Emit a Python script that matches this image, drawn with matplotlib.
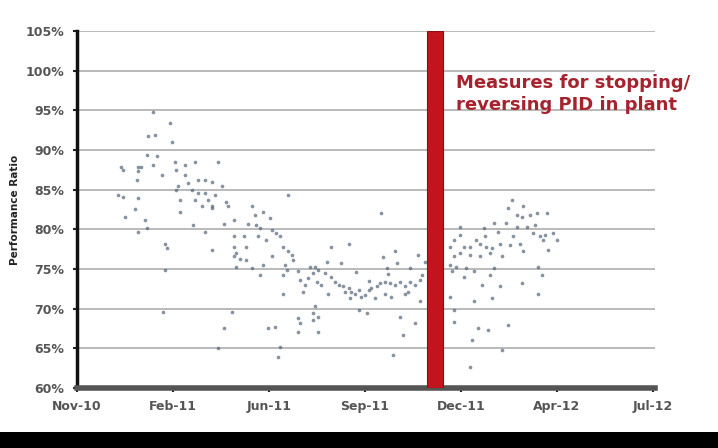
import matplotlib.pyplot as plt
from matplotlib.patches import Rectangle

# days since 1 Nov 2010, performance ratio in %
days = [
    84, 103, 79, 86, 105, 78, 89, 84, 71, 49, 51, 67, 66, 67, 94, 108, 110, 119, 130, 119,
    112, 110, 123, 127, 134, 141, 134, 141, 145, 138, 149, 130, 114, 114, 45, 51, 67, 64, 53, 75,
    77, 67, 128, 141, 97, 99, 149, 97, 95,
    156, 149, 152, 149, 160, 165, 167, 163, 174, 193, 197, 206, 213, 233, 189, 198, 202, 215, 220, 174,
    184, 200, 209, 224, 174, 187, 176, 173, 180, 187, 215, 228, 233, 237, 239, 206, 176, 193, 230, 232,
    244, 246, 255, 252, 261, 257, 202, 228, 228, 250, 265, 171, 244, 246, 261, 261, 244, 162, 211, 219,
    156, 224, 222,
    336, 300, 281, 338, 351, 353, 292, 342, 263, 266, 274, 281, 285, 289, 294, 300, 303, 307, 311, 314,
    318, 322, 325, 331, 335, 340, 346, 351, 357, 362, 368, 373, 379, 381, 296, 301, 277, 270, 311, 320,
    263, 266, 266, 357, 373, 360, 349, 379, 362, 347, 329, 340, 276, 308, 322, 343, 368, 366, 384, 377,
    480, 476, 493, 486, 491, 500, 508, 519, 460, 474, 486, 497, 506, 449, 423, 423, 465, 482, 504, 511,
    517, 526, 530, 515, 520, 451, 441, 416, 412, 427, 434, 445, 452, 458, 467, 478, 489, 493, 456, 445,
    434, 423, 416, 469, 412, 419, 430, 414, 427, 438, 460, 456, 509, 513, 447, 467, 491, 412, 438, 458,
    509, 416, 416, 443, 454, 476, 436, 469, 434,
]
perf_ratio = [
    94.8, 93.4, 91.7, 91.9, 91.0, 89.4, 89.2, 88.1, 87.9, 87.9, 87.5, 87.9, 86.2, 87.3, 86.9, 88.5, 87.5, 88.1, 88.5, 86.9,
    85.4, 85.0, 85.8, 85.0, 86.2, 86.2, 84.6, 84.6, 83.7, 82.9, 82.9, 83.7, 83.7, 82.2, 84.3, 84.1, 83.9, 82.6, 81.6, 81.2,
    80.1, 79.7, 80.6, 79.7, 78.2, 77.6, 77.4, 74.9, 69.6,
    88.5, 86.0, 84.3, 82.7, 85.4, 83.5, 82.9, 80.7, 81.2, 82.9, 81.8, 82.2, 81.4, 84.3, 80.7, 80.5, 80.1, 79.9, 79.5, 79.1,
    79.1, 79.1, 78.7, 79.1, 77.8, 77.8, 77.0, 76.6, 76.3, 76.1, 76.6, 77.8, 77.2, 76.8, 76.1, 75.5, 75.3, 75.1, 75.5, 74.9,
    74.7, 73.6, 73.8, 73.0, 74.5, 75.3, 74.2, 74.2, 71.9, 72.1, 73.4, 69.6, 68.8, 68.2, 69.4, 68.6, 67.1, 67.5, 67.5, 67.7,
    65.0, 65.2, 63.9,
    82.0, 78.2, 77.8, 76.5, 77.2, 75.7, 75.7, 75.1, 75.3, 74.9, 74.5, 74.0, 73.4, 73.0, 72.8, 72.6, 72.1, 71.9, 72.3, 71.5,
    71.7, 72.3, 72.6, 72.8, 73.2, 73.4, 73.2, 73.0, 73.4, 72.8, 73.4, 73.0, 73.6, 74.2, 72.1, 71.3, 71.9, 73.0, 69.8, 69.4,
    70.3, 69.0, 67.1, 69.0, 68.2, 66.7, 64.2, 70.9, 71.9, 71.5, 71.3, 71.9, 75.9, 74.6, 73.5, 74.4, 75.1, 72.1, 75.9, 76.8,
    83.7, 82.7, 82.9, 81.8, 81.6, 81.8, 82.0, 82.0, 80.8, 80.8, 80.3, 80.3, 80.5, 80.1, 80.3, 79.3, 79.7, 79.1, 79.5, 79.1,
    79.3, 79.5, 78.7, 78.7, 77.4, 79.1, 78.7, 78.7, 77.8, 77.8, 77.8, 78.2, 77.8, 77.6, 78.2, 78.0, 78.2, 77.2, 77.0, 76.6,
    76.8, 77.0, 76.6, 76.6, 75.5, 75.3, 75.1, 74.7, 74.0, 74.7, 75.1, 74.2, 75.3, 74.2, 73.0, 72.8, 73.2, 71.5, 70.9, 71.3,
    71.9, 69.8, 68.3, 67.5, 67.3, 67.9, 66.0, 64.8, 62.7,
]

tick_days = [0, 106, 212, 318, 424, 530, 636]
tick_labels = ["Nov-10", "Feb-11", "Jun-11", "Sep-11", "Dec-11", "Apr-12", "Jul-12"]
y_ticks = [60, 65, 70, 75, 80, 85, 90, 95, 100, 105]

# PID measures period (days since 1 Nov 2010)
measure_start = 386
measure_end = 404
note = "Measures for stopping/\nreversing PID in plant"

fig = plt.figure(figsize=(7.18, 4.48), dpi=100)
ax = fig.add_axes([0.107, 0.134, 0.805, 0.797])

for y in y_ticks[1:]:
    ax.axhline(y, color="#b4b4b4", linewidth=1.3, zorder=0)

ax.scatter(days, perf_ratio, s=7, color="#55667a", alpha=0.7, linewidths=0, zorder=2)

ax.axvspan(measure_start, measure_end, ymin=0, ymax=1, facecolor="#c3131d",
           edgecolor="#8e0d14", linewidth=0.8, zorder=3)
ax.text(418, 99.6, note, color="#a5232e", fontsize=13, fontweight="bold",
        va="top", ha="left", linespacing=1.3, clip_on=False, zorder=4)

ax.set_xlim(0, 638)
ax.set_ylim(60, 105)
ax.set_xticks(tick_days)
ax.set_xticklabels(tick_labels)
ax.set_yticks(y_ticks)
ax.set_yticklabels([f"{v}%" for v in y_ticks])
ax.tick_params(axis="both", labelsize=9, colors="#222222", length=3, width=1.5, pad=6)
for lbl in ax.get_xticklabels() + ax.get_yticklabels():
    lbl.set_fontweight("bold")
    lbl.set_color("#555555")
ax.set_ylabel("Performance Ratio", fontsize=7.5, fontweight="bold", color="#222222", labelpad=4)

ax.spines["top"].set_visible(False)
ax.spines["right"].set_visible(False)
ax.spines["left"].set_linewidth(2.5)
ax.spines["left"].set_color("#111111")
ax.spines["bottom"].set_linewidth(4)
ax.spines["bottom"].set_color("#555555")

fig.add_artist(Rectangle((0, 0), 1, 0.036, transform=fig.transFigure,
                         facecolor="black", edgecolor="none"))

fig.savefig("out.png", dpi=100)
